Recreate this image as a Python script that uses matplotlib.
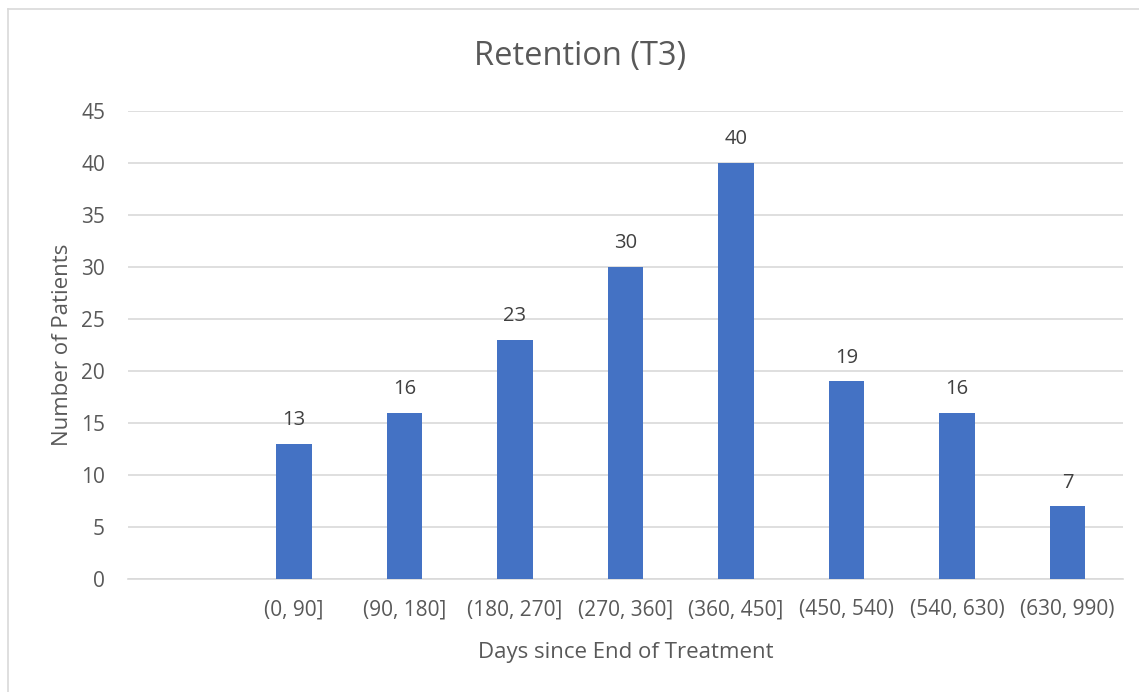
import matplotlib
matplotlib.use("Agg")
import matplotlib.pyplot as plt
from matplotlib.lines import Line2D

categories = ["", "(0, 90]", "(90, 180]", "(180, 270]", "(270, 360]", "(360, 450]",
              "(450, 540)", "(540, 630)", "(630, 990)"]
values = [None, 13, 16, 23, 30, 40, 19, 16, 7]
yticks = [0, 5, 10, 15, 20, 25, 30, 35, 40, 45]

plt.rcParams['font.family'] = ['Open Sans', 'DejaVu Sans']
W, H = 1139, 692
fig = plt.figure(figsize=(W / 100, H / 100), dpi=100)
ax = fig.add_axes([128 / W, 1 - 579 / H, (1123 - 128) / W, (579 - 111) / H])

text_c = "#595959"
bar_c = "#4472C4"
grid_c = "#D9D9D9"

xs = list(range(len(categories)))
for x, v in zip(xs, values):
    if v is None:
        continue
    ax.bar(x, v, width=0.32, color=bar_c, zorder=3)
    ax.text(x, v + 1.3, str(v), ha="center", va="bottom", fontsize=14.5, color="#404040", zorder=4)

ax.set_xlim(-0.5, len(categories) - 0.5)
ax.set_ylim(0, 45)
ax.set_yticks(yticks)
ax.set_xticks(xs)
ax.set_xticklabels(categories)
ax.tick_params(axis="both", length=0, labelsize=15, colors=text_c)
ax.tick_params(axis="x", pad=14.5)
ax.tick_params(axis="y", pad=16.5)
ax.yaxis.grid(True, color=grid_c, linewidth=1.2, zorder=0)
ax.set_axisbelow(True)
for s in ["top", "right", "left"]:
    ax.spines[s].set_visible(False)
ax.spines["bottom"].set_color(grid_c)
ax.spines["bottom"].set_linewidth(1.2)

ax.set_xlabel("Days since End of Treatment", fontsize=16, color=text_c, labelpad=16)
ax.set_ylabel("Number of Patients", fontsize=16, color=text_c, labelpad=6)
fig.text(580 / W, 1 - 57 / H, "Retention (T3)", ha="center", va="center",
         fontsize=23.5, color=text_c)

# chart frame lines (top and left)
fig.add_artist(Line2D([8 / W, 1], [1 - 9 / H, 1 - 9 / H], transform=fig.transFigure,
                      color=grid_c, linewidth=1.2))
fig.add_artist(Line2D([8 / W, 8 / W], [0, 1 - 9 / H], transform=fig.transFigure,
                      color=grid_c, linewidth=1.2))

fig.savefig("out.png", dpi=100)
